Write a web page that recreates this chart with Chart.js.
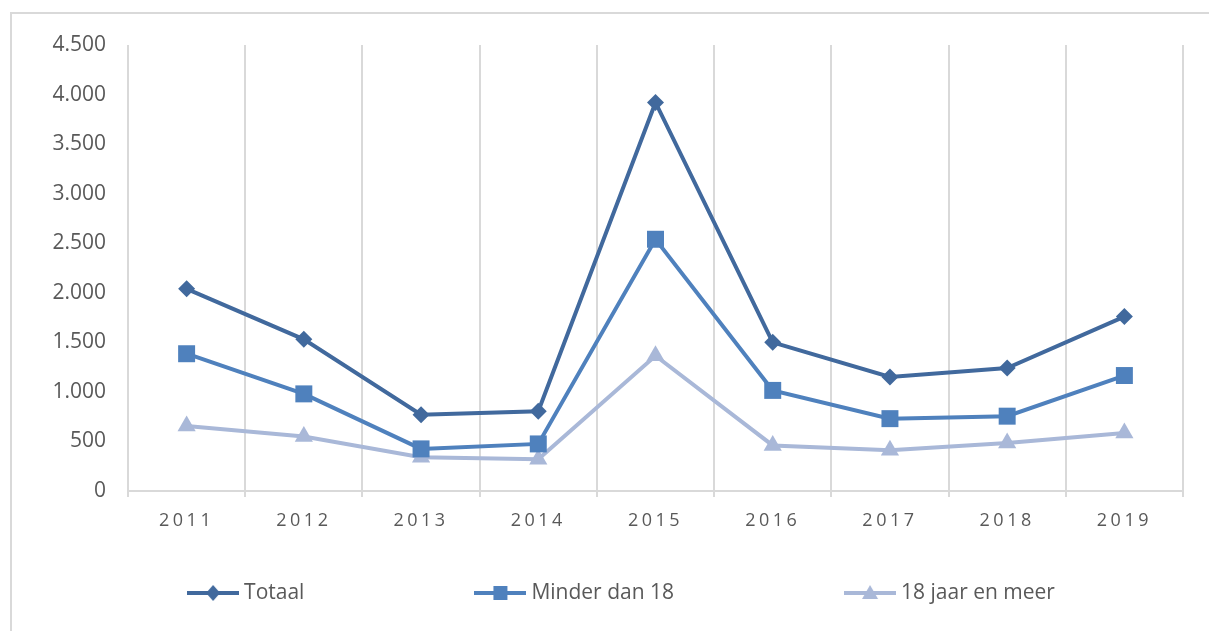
<!DOCTYPE html>
<html>
<head>
<meta charset="utf-8">
<script src="https://cdn.jsdelivr.net/npm/chart.js@4/dist/chart.umd.min.js"></script>
<style>
  html, body { margin: 0; padding: 0; background: #fff; }
  #frame { position: absolute; left: 10px; top: 12px; width: 1300px; height: 700px; border: 2px solid #d9d9d9; }
  #wrap { position: absolute; left: 0; top: 0; width: 1209px; height: 631px; }
</style>
</head>
<body>
<div id="frame"></div>
<div id="wrap"><canvas id="chart" width="1209" height="631"></canvas></div>
<script>
const years = ["2011", "2012", "2013", "2014", "2015", "2016", "2017", "2018", "2019"];
const totaal = [2040, 1530, 770, 805, 3920, 1500, 1150, 1240, 1760];
const minder18 = [1385, 980, 425, 475, 2540, 1015, 730, 755, 1165];
const meer18 = [655, 550, 340, 320, 1365, 460, 410, 485, 585];

const cTotaal = "#41699d";
const cMinder = "#4f81bd";
const cMeer = "#a9b8d8";

function fmt(v) {
    return String(v).replace(/\B(?=(\d{3})+(?!\d))/g, ".");
}

// small line + marker picture for the legend
function legendIcon(color, shape) {
    const c = document.createElement("canvas");
    c.width = 52;
    c.height = 20;
    const g = c.getContext("2d");
    g.strokeStyle = color;
    g.fillStyle = color;
    g.lineWidth = 4;
    g.beginPath();
    g.moveTo(0, 10);
    g.lineTo(52, 10);
    g.stroke();
    g.beginPath();
    if (shape === "diamond") {
        g.moveTo(26, 2); g.lineTo(33, 10); g.lineTo(26, 18); g.lineTo(19, 10);
    } else if (shape === "square") {
        g.rect(19, 3, 14, 14);
    } else {
        g.moveTo(26, 2); g.lineTo(34, 16); g.lineTo(18, 16);
    }
    g.closePath();
    g.fill();
    return c;
}

const icons = [
    legendIcon(cTotaal, "diamond"),
    legendIcon(cMinder, "square"),
    legendIcon(cMeer, "triangle")
];

// letter spacing on the year labels
const spacedYears = {
    id: "spacedYears",
    beforeDraw(chart) {
        const s = chart.scales.x;
        if (s._spaced) return;
        const orig = s.drawLabels;
        s.drawLabels = function (area) {
            this.ctx.save();
            this.ctx.letterSpacing = "3.5px";
            orig.call(this, area);
            this.ctx.restore();
        };
        s._spaced = true;
    }
};

// one row legend under the axis, wide gaps like the original
const legendRow = {
    id: "legendRow",
    afterDraw(chart) {
        const ctx = chart.ctx;
        const sets = chart.data.datasets;
        const iconW = 52, gap = 5, space = 170;
        ctx.save();
        ctx.font = "21px 'Open Sans', sans-serif";
        ctx.fillStyle = "#595959";
        ctx.textAlign = "left";
        ctx.textBaseline = "middle";
        const widths = sets.map(d => iconW + gap + ctx.measureText(d.label).width);
        const total = widths.reduce((a, b) => a + b, 0) + space * (sets.length - 1);
        let x = 621 - total / 2;
        const y = 593;
        sets.forEach((d, i) => {
            ctx.drawImage(icons[i], x, y - 10);
            ctx.fillText(d.label, x + iconW + gap, y);
            x += widths[i] + space;
        });
        ctx.restore();
    }
};

const ctx = document.getElementById("chart").getContext("2d");

new Chart(ctx, {
    type: "line",
    data: {
        labels: years,
        datasets: [
            {
                label: "Totaal",
                data: totaal,
                borderColor: cTotaal,
                backgroundColor: cTotaal,
                borderWidth: 4,
                pointStyle: "rectRot",
                pointRadius: 8.5,
                pointBorderWidth: 0,
                tension: 0
            },
            {
                label: "Minder dan 18",
                data: minder18,
                borderColor: cMinder,
                backgroundColor: cMinder,
                borderWidth: 4,
                pointStyle: "rect",
                pointRadius: 12,
                pointBorderWidth: 0,
                tension: 0
            },
            {
                label: "18 jaar en meer",
                data: meer18,
                borderColor: cMeer,
                backgroundColor: cMeer,
                borderWidth: 4,
                pointStyle: "triangle",
                pointRadius: 10.5,
                pointBorderWidth: 0,
                tension: 0
            }
        ]
    },
    options: {
        responsive: false,
        animation: false,
        layout: {
            padding: { left: 0, right: 26, top: 45, bottom: 0 }
        },
        plugins: {
            tooltip: { enabled: false },
            legend: { display: false }
        },
        scales: {
            x: {
                offset: true,
                grid: {
                    offset: true,
                    color: "#d9d9d9",
                    lineWidth: 2,
                    tickLength: 6
                },
                border: { display: true, color: "#d9d9d9", width: 2 },
                ticks: {
                    color: "#595959",
                    padding: 13,
                    maxRotation: 0,
                    font: { family: "'Open Sans', sans-serif", size: 18 }
                },
                afterFit(scale) {
                    scale.height = 140;
                }
            },
            y: {
                min: 0,
                max: 4500,
                grid: { display: false, drawTicks: false },
                border: { display: false },
                ticks: {
                    stepSize: 500,
                    padding: 22,
                    color: "#595959",
                    font: { family: "'Open Sans', sans-serif", size: 21 },
                    callback: v => fmt(v)
                },
                afterFit(scale) {
                    scale.width = 128;
                }
            }
        }
    },
    plugins: [spacedYears, legendRow]
});
</script>
</body>
</html>
